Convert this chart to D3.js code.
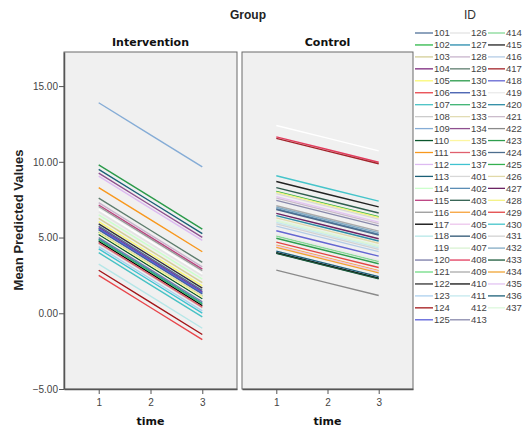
<!DOCTYPE html>
<html>
<head>
<meta charset="utf-8">
<script src="https://cdn.jsdelivr.net/npm/d3@7"></script>
<style>
    body { margin: 0; background: #fff; }
    svg { display: block; }
</style>
</head>
<body>
<svg id="chart"></svg>
<script>
const times = [1, 2, 3];
const yTicks = [-5, 0, 5, 10, 15];
const groups = ["Intervention", "Control"];

const interventionIds = [101, 102, 103, 104, 105, 106, 107, 108, 109, 110, 111, 112, 113, 114, 115, 116, 117, 118, 119,
    120, 121, 122, 123, 124, 125, 126, 127, 128, 129, 130, 131, 132, 133, 134, 135, 136, 137];
const controlIds = [401, 402, 403, 404, 405, 406, 407, 408, 409, 410, 411, 412, 413, 414, 415, 416, 417, 418, 419,
    420, 421, 422, 423, 424, 425, 426, 427, 428, 429, 430, 431, 432, 433, 434, 435, 436, 437];

// mean predicted values at time 1, 2, 3
const interventionT1 = [5.75, 5.35, 6.26, 5.65, 6.05, 2.50, 4.00, 4.60, 13.90, 5.20, 8.30, 9.05, 9.50, 6.50, 7.15, 7.05, 4.75, 3.25, 6.85,
    5.00, 5.55, 5.90, 4.40, 2.84, 5.60, 6.70, 4.90, 7.30, 7.60, 9.80, 5.50, 4.85, 5.40, 9.25, 5.30, 4.65, 4.25];
const interventionT2 = [3.63, 3.23, 4.14, 3.53, 3.93, 0.38, 1.88, 2.48, 11.78, 3.08, 6.18, 6.93, 7.38, 4.38, 5.03, 4.93, 2.63, 1.13, 4.73,
    2.88, 3.43, 3.78, 2.28, 0.72, 3.48, 4.58, 2.78, 5.18, 5.48, 7.68, 3.38, 2.73, 3.28, 7.13, 3.18, 2.53, 2.13];
const interventionT3 = [1.51, 1.11, 2.02, 1.41, 1.81, -1.74, -0.24, 0.36, 9.66, 0.96, 4.06, 4.81, 5.26, 2.26, 2.91, 2.81, 0.51, -0.99, 2.61,
    0.76, 1.31, 1.66, 0.16, -1.40, 1.36, 2.46, 0.66, 3.06, 3.36, 5.56, 1.26, 0.61, 1.16, 5.01, 1.06, 0.41, 0.01];

const controlT1 = [7.90, 6.90, 8.30, 4.50, 4.45, 3.98, 6.10, 11.65, 7.10, 4.00, 6.00, 12.40, 7.45, 5.10, 8.70, 5.75, 11.55, 5.45, 5.20,
    6.45, 7.60, 2.85, 4.95, 6.85, 8.05, 6.30, 6.60, 8.00, 4.70, 9.08, 5.90, 7.00, 3.95, 4.35, 7.70, 4.10, 6.15];
const controlT2 = [7.06, 6.06, 7.46, 3.66, 3.61, 3.14, 5.26, 10.81, 6.26, 3.16, 5.16, 11.56, 6.61, 4.26, 7.86, 4.91, 10.71, 4.61, 4.36,
    5.61, 6.76, 2.01, 4.11, 6.01, 7.21, 5.46, 5.76, 7.16, 3.86, 8.24, 5.06, 6.16, 3.11, 3.51, 6.86, 3.26, 5.31];
const controlT3 = [6.22, 5.22, 6.62, 2.82, 2.77, 2.30, 4.42, 9.97, 5.42, 2.32, 4.32, 10.72, 5.77, 3.42, 7.02, 4.07, 9.87, 3.77, 3.52,
    4.77, 5.92, 1.17, 3.27, 5.17, 6.37, 4.62, 4.92, 6.32, 3.02, 7.40, 4.22, 5.32, 2.27, 2.67, 6.02, 2.42, 4.47];

const interventionColors = ["#51729a", "#2eb848", "#d3ce97", "#7c287d", "#fbf873", "#e8454a", "#48c2c5", "#cccccc", "#85acd6",
    "#0a562c", "#f8981d", "#ddbaf1", "#1a5f76", "#ccffcc", "#bb3f7f", "#999999", "#000000", "#b6e7e8", "#ffffff",
    "#797aa7", "#70dc84", "#333333", "#acd0ee", "#a21619", "#5a5fd8", "#e4e4e4", "#278bac", "#c8b4cc", "#5e7d6e",
    "#2a9a4a", "#3e58ac", "#3cb371", "#e2dcb4", "#8e4f8f", "#fdf6a0", "#e0606e", "#3fc3d0"];
const controlColors = ["#d8d8d8", "#5b8db5", "#2f5e4e", "#f7a23a", "#ecc6ec", "#2c5573", "#d9f2d2", "#e23c5e", "#aaaaaa",
    "#111111", "#c4e9ee", "#ffffff", "#8a8aac", "#86d996", "#222222", "#b4cce6", "#a3232a", "#6466d2", "#eaeaea",
    "#2c8ca4", "#cbbccb", "#8a8a8a", "#2e9e4e", "#4d6d8d", "#34b04f", "#e1d9a9", "#6b2363", "#f4f283", "#e34646",
    "#45c4ca", "#d2d2d2", "#83abc4", "#1d5b3b", "#f0a435", "#e3c4f2", "#1c6078", "#dcf8dc"];

const width = 527, height = 432;
const plotTop = 52, plotBottom = 389;
const panels = [
    { name: groups[0], x0: 64, x1: 237, ids: interventionIds, t: [interventionT1, interventionT2, interventionT3], colors: interventionColors },
    { name: groups[1], x0: 242, x1: 413, ids: controlIds, t: [controlT1, controlT2, controlT3], colors: controlColors }
];

const svg = d3.select("#chart")
    .attr("width", width)
    .attr("height", height);

const y = d3.scaleLinear().domain([-5, 17.25]).range([plotBottom, plotTop]);

svg.append("text")
    .attr("x", 248).attr("y", 19)
    .attr("text-anchor", "middle")
    .attr("font-family", "Liberation Sans, Arial, sans-serif")
    .attr("font-weight", "bold")
    .attr("font-size", 12)
    .attr("fill", "#222")
    .text("Group");

svg.append("text")
    .attr("transform", `translate(23, 220) rotate(-90)`)
    .attr("text-anchor", "middle")
    .attr("font-family", "Liberation Sans, Arial, sans-serif")
    .attr("font-weight", "bold")
    .attr("font-size", 13)
    .attr("fill", "#222")
    .text("Mean Predicted Values");

panels.forEach((p, pi) => {
    const x = d3.scaleLinear().domain([0.33, 3.67]).range([p.x0, p.x1]);
    const g = svg.append("g");

    g.append("rect")
        .attr("x", p.x0).attr("y", plotTop)
        .attr("width", p.x1 - p.x0).attr("height", plotBottom - plotTop)
        .attr("fill", "#f0f0f0")
        .attr("stroke", "#6a6a6a")
        .attr("stroke-width", 1);

    g.append("text")
        .attr("x", x(2)).attr("y", 46)
        .attr("text-anchor", "middle")
        .attr("font-family", "DejaVu Sans, sans-serif")
        .attr("font-weight", "bold")
        .attr("font-size", 11)
        .attr("fill", "#111")
        .text(p.name);

    const line = d3.line()
        .x((d, i) => x(times[i]))
        .y(d => y(d));

    g.selectAll(".series")
        .data(p.ids)
        .join("path")
        .attr("class", "series")
        .attr("d", (id, k) => line(p.t.map(arr => arr[k])))
        .attr("fill", "none")
        .attr("stroke", (id, k) => p.colors[k])
        .attr("stroke-width", 1.4);

    // x axis
    const xAxis = g.append("g")
        .attr("transform", `translate(0,${plotBottom})`)
        .call(d3.axisBottom(x).tickValues(times).tickFormat(d3.format("d")).tickSize(5).tickSizeOuter(0));
    xAxis.select(".domain").attr("stroke", "#555").attr("stroke-width", 1.5);
    xAxis.selectAll(".tick line").attr("stroke", "#555");
    xAxis.selectAll(".tick text")
        .attr("font-family", "Liberation Sans, Arial, sans-serif")
        .attr("font-size", 10)
        .attr("fill", "#444")
        .attr("dy", "0.9em");

    g.append("text")
        .attr("x", x(2)).attr("y", 425)
        .attr("text-anchor", "middle")
        .attr("font-family", "DejaVu Sans, sans-serif")
        .attr("font-weight", "bold")
        .attr("font-size", 11)
        .attr("fill", "#111")
        .text("time");

    if (pi === 0) {
        const yAxis = g.append("g")
            .attr("transform", `translate(${p.x0},0)`)
            .call(d3.axisLeft(y).tickValues(yTicks).tickFormat(d3.format(".2f")).tickSize(5).tickSizeOuter(0));
        yAxis.select(".domain").attr("stroke", "#555").attr("stroke-width", 1.5);
        yAxis.selectAll(".tick line").attr("stroke", "#555");
        yAxis.selectAll(".tick text")
            .attr("font-family", "Liberation Sans, Arial, sans-serif")
            .attr("font-size", 10)
            .attr("fill", "#444")
            .attr("x", -6);
    }
});

// legend: three columns of 25 rows
const legendIds = interventionIds.concat(controlIds);
const legendColors = interventionColors.concat(controlColors);
const colX = [415, 450, 488];
const rowH = 11.95;

svg.append("text")
    .attr("x", 470).attr("y", 19)
    .attr("text-anchor", "middle")
    .attr("font-family", "Liberation Sans, Arial, sans-serif")
    .attr("font-size", 12)
    .attr("fill", "#333")
    .text("ID");

const items = svg.selectAll(".legend-item")
    .data(legendIds)
    .join("g")
    .attr("class", "legend-item")
    .attr("transform", (d, i) => `translate(${colX[Math.floor(i / 25)]},${33 + (i % 25) * rowH})`);

items.append("line")
    .attr("x1", 0).attr("x2", (d, i) => i < 25 ? 18 : (i < 50 ? 20 : 17))
    .attr("stroke", (d, i) => legendColors[i])
    .attr("stroke-width", 1.3);

items.append("text")
    .attr("x", (d, i) => i < 25 ? 19 : (i < 50 ? 21 : 18))
    .attr("dy", "0.35em")
    .attr("font-family", "Liberation Sans, Arial, sans-serif")
    .attr("font-size", 9.5)
    .attr("fill", "#444")
    .text(d => d);
</script>
</body>
</html>
